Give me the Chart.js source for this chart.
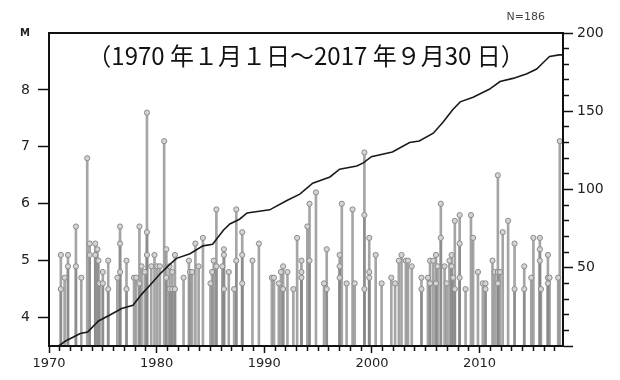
<!DOCTYPE html>
<html>
<head>
<meta charset="utf-8">
<script src="https://cdn.jsdelivr.net/npm/chart.js@4"></script>
<style>
  body { margin: 0; background: #fff; }
  #wrap { width: 620px; height: 380px; }
</style>
</head>
<body>
<div id="wrap"><canvas id="chart" width="620" height="380"></canvas></div>
<script>
// eventos (año decimal) y magnitud
const quakeYears = [
  1971.1, 1971.1, 1971.45, 1971.76, 1971.76, 1972.5, 1972.5, 1973.0, 1973.55, 1973.78, 1973.78,
  1974.3, 1974.3, 1974.5, 1974.6, 1974.7, 1975.0, 1975.0, 1975.5, 1975.5, 1976.35,
  1976.6, 1976.6, 1976.6, 1977.2, 1977.2, 1977.9, 1978.1, 1978.4, 1978.4, 1978.6, 1978.9,
  1979.1, 1979.1, 1979.1, 1979.5, 1979.8, 1980.05, 1980.3, 1980.7, 1980.9, 1980.9,
  1981.2, 1981.2, 1981.45, 1981.45, 1981.7, 1981.7, 1982.5, 1983.0, 1983.1, 1983.3,
  1983.6, 1983.9, 1984.3, 1985.0, 1985.15, 1985.3, 1985.55, 1985.55, 1986.1,
  1986.25, 1986.25, 1986.25, 1986.7, 1987.2, 1987.4, 1987.4, 1987.95, 1987.95, 1987.95,
  1988.9, 1989.5,
  1990.7, 1990.9, 1991.35, 1991.55, 1991.75, 1991.75, 1992.15, 1992.7, 1993.05,
  1993.45, 1993.45, 1993.45, 1994.0, 1994.2, 1994.2, 1994.8, 1995.55, 1995.8, 1995.8,
  1997.0, 1997.0, 1997.0, 1997.2, 1997.65, 1998.2, 1998.4, 1999.3, 1999.3, 1999.3,
  1999.75, 1999.75, 1999.75, 2000.35, 2000.9, 2001.8, 2002.15, 2002.5, 2002.75,
  2003.15, 2003.35, 2003.7, 2004.6, 2004.6, 2005.2, 2005.4, 2005.4, 2005.7,
  2005.95, 2005.95, 2006.1, 2006.4, 2006.4, 2006.75, 2006.95, 2007.2, 2007.4, 2007.4,
  2007.55, 2007.7, 2007.7, 2008.15, 2008.15, 2008.15, 2008.7, 2009.2, 2009.4, 2009.85,
  2010.3, 2010.55, 2010.55, 2011.2, 2011.4, 2011.7, 2011.7, 2011.7, 2011.9, 2012.15,
  2012.65, 2013.25, 2013.25, 2014.15, 2014.15, 2014.8, 2015.0, 2015.6, 2015.6, 2015.6,
  2015.7, 2016.35, 2016.35, 2016.35, 2016.5, 2017.3, 2017.45
];
const quakeMags = [
  5.1, 4.5, 4.7, 5.1, 4.9, 5.6, 4.9, 4.7, 6.8, 5.3, 5.1,
  5.3, 5.1, 5.2, 5.0, 4.6, 4.8, 4.6, 5.0, 4.5, 4.7,
  5.6, 5.3, 4.8, 5.0, 4.5, 4.7, 4.7, 5.6, 4.6, 4.9, 4.8,
  7.6, 5.5, 5.1, 4.9, 5.1, 4.9, 4.9, 7.1, 5.2, 4.7,
  4.9, 4.5, 4.8, 4.5, 5.1, 4.5, 4.7, 5.0, 4.8, 4.8,
  5.3, 4.9, 5.4, 4.6, 4.8, 5.0, 5.9, 4.9, 4.9,
  5.2, 5.1, 4.5, 4.8, 4.5, 5.9, 5.0, 5.5, 5.1, 4.6,
  5.0, 5.3,
  4.7, 4.7, 4.6, 4.8, 4.9, 4.5, 4.8, 4.5, 5.4,
  5.0, 4.8, 4.7, 5.6, 6.0, 5.0, 6.2, 4.6, 5.2, 4.5,
  5.1, 4.9, 4.7, 6.0, 4.6, 5.9, 4.6, 6.9, 5.8, 4.5,
  5.4, 4.8, 4.7, 5.1, 4.6, 4.7, 4.6, 5.0, 5.1,
  5.0, 5.0, 4.9, 4.7, 4.5, 4.7, 5.0, 4.6, 5.0,
  5.1, 4.6, 4.9, 6.0, 5.4, 4.9, 4.6, 5.0, 5.1, 4.9,
  4.7, 5.7, 4.5, 5.8, 5.3, 4.7, 4.5, 5.8, 5.4, 4.8,
  4.6, 4.6, 4.5, 5.0, 4.8, 6.5, 4.8, 4.6, 4.8, 5.5,
  5.7, 5.3, 4.5, 4.9, 4.5, 4.7, 5.4, 5.4, 5.2, 5.0,
  4.5, 5.1, 4.7, 4.6, 4.7, 4.7, 7.1
];

// curva de numero acumulado (eje derecho)
const cumYears = [
  1970, 1970.9, 1971.5, 1972.9, 1973.6, 1974.6, 1975.7, 1976.75, 1977.8, 1978.6,
  1979.4, 1980.3, 1981.2, 1981.85, 1983.1, 1984.3, 1985.2, 1986.2, 1986.8, 1987.7,
  1988.4, 1990.5, 1992.1, 1993.3, 1994.5, 1996.1, 1997.0, 1998.6, 1999.2, 1999.95,
  2001.9, 2003.5, 2004.4, 2005.7, 2006.6, 2007.5, 2008.2, 2009.4, 2010.9, 2011.9,
  2013.1, 2014.4, 2015.3, 2015.9, 2016.5, 2017.4, 2017.75
];
const cumCounts = [
  0, 0, 3, 8, 9, 16, 20, 24, 26, 33,
  39, 46, 52, 56, 59, 64, 65, 74, 78, 81,
  85, 87, 93, 97, 104, 108, 113, 115, 117, 121,
  124, 130, 131, 136, 143, 151, 156, 159, 164, 169,
  171, 174, 177, 181, 185, 186, 186
];

const magTicks = [4, 5, 6, 7, 8, 9];
const titulo = "（1970 年１月１日～2017 年９月30 日）";
const totalTexto = "N=186";

const stemData = quakeYears.map((x, i) => ({ x: x, y: [3.5, quakeMags[i]] }));
const dotData = quakeYears.map((x, i) => ({ x: x, y: quakeMags[i] }));
const cumData = cumYears.map((x, i) => ({ x: x, y: cumCounts[i] }));

const axisFont = { family: "DejaVu Sans", size: 13 };

// marco y textos
const marcoPlugin = {
  id: "marco",
  afterDatasetsDraw(chart) {
    const { ctx, chartArea } = chart;
    ctx.save();
    ctx.strokeStyle = "#111";
    ctx.lineWidth = 2;
    ctx.strokeRect(chartArea.left, chartArea.top, chartArea.right - chartArea.left, chartArea.bottom - chartArea.top);

    ctx.fillStyle = "#111";
    ctx.font = '24px "Noto Sans CJK JP"';
    ctx.textBaseline = "middle";
    ctx.textAlign = "center";
    const cx = (chartArea.left + chartArea.right) / 2;
    const w = ctx.measureText(titulo).width;
    const sx = Math.min(1, 440 / w);
    ctx.translate(cx, chartArea.top + 23);
    ctx.scale(sx, 1);
    ctx.fillText(titulo, 0, 0);
    ctx.restore();

    ctx.save();
    ctx.fillStyle = "#444";
    ctx.font = '11px "DejaVu Sans"';
    ctx.textAlign = "right";
    ctx.textBaseline = "middle";
    ctx.fillText(totalTexto, chartArea.right - 18, 17);
    ctx.restore();
  }
};

new Chart(document.getElementById("chart"), {
  type: "bar",
  data: {
    datasets: [
      {
        type: "line",
        data: cumData,
        yAxisID: "y2",
        borderColor: "#1a1a1a",
        borderWidth: 1.6,
        pointRadius: 0,
        tension: 0,
        fill: false,
        order: 1
      },
      {
        type: "scatter",
        data: dotData,
        yAxisID: "y",
        pointRadius: 2.6,
        pointBackgroundColor: "#d4d4d4",
        pointBorderColor: "#8a8a8a",
        pointBorderWidth: 1,
        showLine: false,
        order: 2
      },
      {
        type: "bar",
        data: stemData,
        yAxisID: "y",
        barThickness: 2,
        backgroundColor: "rgba(135,135,135,0.75)",
        borderWidth: 0,
        order: 3
      }
    ]
  },
  options: {
    responsive: false,
    devicePixelRatio: 1,
    animation: false,
    layout: { padding: { top: 33, left: 0, right: 0, bottom: 0 } },
    plugins: { legend: { display: false }, tooltip: { enabled: false } },
    scales: {
      x: {
        type: "linear",
        min: 1970,
        max: 2017.75,
        offset: false,
        grid: {
          offset: false,
          drawOnChartArea: false,
          tickLength: 7,
          tickColor: "#111",
          tickWidth: 1.5,
          tickBorderDash: (c) => (c.tick && c.tick.value % 10 === 0 ? [] : [4, 20])
        },
        border: { width: 2, color: "#111" },
        ticks: {
          stepSize: 1,
          autoSkip: false,
          maxRotation: 0,
          includeBounds: false,
          padding: 3,
          color: "#222",
          font: axisFont,
          callback: (v) => (v % 10 === 0 ? String(v) : "")
        },
        afterFit: (s) => { s.height = 34; }
      },
      y: {
        position: "left",
        min: 3.5,
        max: 9,
        afterBuildTicks: (s) => { s.ticks = magTicks.map((v) => ({ value: v })); },
        grid: {
          drawOnChartArea: false,
          tickLength: 11,
          tickWidth: 1.5,
          tickColor: (c) => (c.tick && c.tick.value === 9 ? "rgba(0,0,0,0)" : "#111")
        },
        border: { width: 2, color: "#111" },
        ticks: {
          padding: 8,
          color: "#222",
          font: (c) => (c.tick && c.tick.value === 9
            ? { family: "DejaVu Sans", size: 10, weight: "bold" }
            : { family: "DejaVu Sans", size: 14 }),
          callback: (v) => (v === 9 ? "M" : String(v))
        },
        afterFit: (s) => { s.width = 49; }
      },
      y2: {
        position: "right",
        min: 0,
        max: 200,
        grid: {
          drawOnChartArea: false,
          tickLength: 10,
          tickWidth: 1.5,
          tickColor: "#111",
          tickBorderDash: (c) => (c.tick && c.tick.value % 50 === 0 ? [] : [5, 20])
        },
        border: { width: 2, color: "#111" },
        ticks: {
          stepSize: 10,
          autoSkip: false,
          padding: 4,
          color: "#222",
          font: { family: "DejaVu Sans", size: 14 },
          callback: (v) => (v % 50 === 0 && v > 0 ? String(v) : "")
        },
        afterFit: (s) => { s.width = 57; }
      }
    }
  },
  plugins: [marcoPlugin]
});
</script>
</body>
</html>
